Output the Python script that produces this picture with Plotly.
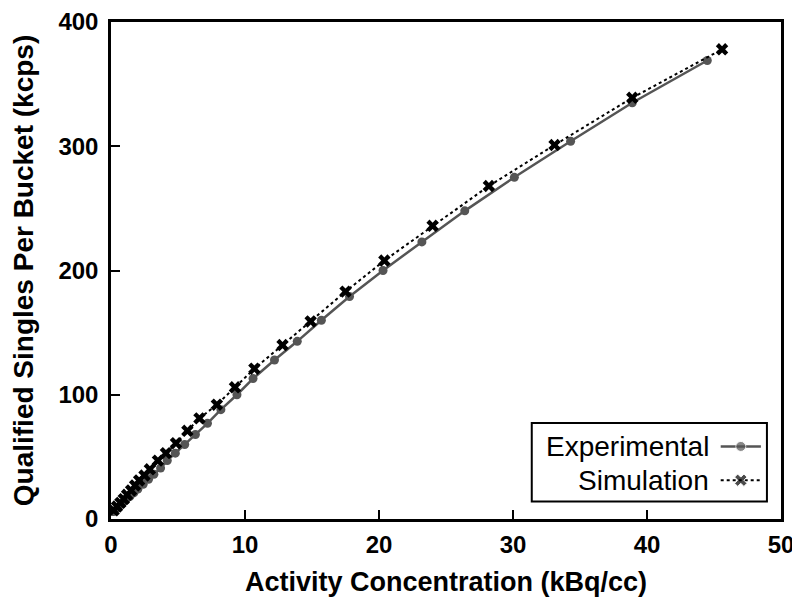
import plotly.graph_objects as go

# Experimental data (kBq/cc -> kcps)
exp_x = [0.2, 0.5, 0.8, 1.1, 1.4, 1.7, 2.0, 2.4, 2.8, 3.2, 3.7, 4.2, 4.8, 5.5, 6.3,
         7.2, 8.2, 9.4, 10.6, 12.2, 13.9, 15.7, 17.8, 20.3, 23.2, 26.4, 30.1, 34.3,
         38.9, 44.5]
exp_y = [6, 9, 12, 15, 18, 21, 24, 28, 32, 36, 41, 47, 53, 60, 68,
         77, 88, 100, 113, 128, 143, 160, 179, 200, 223, 248, 275, 304,
         335, 369]

# Simulation data
sim_x = [0.2, 0.45, 0.7, 0.95, 1.2, 1.5, 1.8, 2.1, 2.5, 2.9, 3.5, 4.1, 4.85, 5.7,
         6.6, 7.9, 9.25, 10.7, 12.8, 14.9, 17.5, 20.4, 24.0, 28.2, 33.1, 38.9, 45.6]
sim_y = [7, 10, 13, 16, 19.5, 23, 27, 31, 35, 40, 47, 53, 61, 71,
         81, 92, 106, 121, 140, 159, 183, 208, 236, 268, 301, 339, 378]

x_ticks = [0, 10, 20, 30, 40, 50]
y_ticks = [0, 100, 200, 300, 400]
legend_names = ["Experimental", "Simulation"]

EXP_COLOR = "#555555"
SIM_COLOR = "#000000"
FONT = "Liberation Sans, Arial, sans-serif"

fig = go.Figure()
fig.add_trace(go.Scatter(x=exp_x, y=exp_y, mode="lines+markers", name=legend_names[0],
                         line=dict(color=EXP_COLOR, width=2.5),
                         marker=dict(symbol="circle", size=9, color=EXP_COLOR),
                         showlegend=False))
fig.add_trace(go.Scatter(x=sim_x, y=sim_y, mode="lines+markers", name=legend_names[1],
                         line=dict(color=SIM_COLOR, width=2, dash="dot"),
                         marker=dict(symbol="x", size=11, color=SIM_COLOR),
                         showlegend=False))

# Custom legend (symbols on the right of text), drawn in an overlay unit axis
lx0, lx1 = 0.91, 0.97
ly = [0.146, 0.078]
fig.add_trace(go.Scatter(x=[lx0, (lx0 + lx1) / 2, lx1], y=[ly[0]] * 3, xaxis="x2", yaxis="y2",
                         mode="lines+markers", showlegend=False, hoverinfo="skip",
                         line=dict(color=EXP_COLOR, width=2.5),
                         marker=dict(symbol="circle", size=[0, 10, 0], color=EXP_COLOR)))
fig.add_trace(go.Scatter(x=[lx0, (lx0 + lx1) / 2, lx1], y=[ly[1]] * 3, xaxis="x2", yaxis="y2",
                         mode="lines+markers", showlegend=False, hoverinfo="skip",
                         line=dict(color=SIM_COLOR, width=2, dash="dot"),
                         marker=dict(symbol="x", size=[0, 11, 0], color=SIM_COLOR)))
for name, yy in zip(legend_names, ly):
    fig.add_annotation(x=0.895, y=yy, xref="paper", yref="paper", text=name,
                       showarrow=False, xanchor="right", yanchor="middle",
                       font=dict(family=FONT, size=28, color="black"))
fig.add_shape(type="rect", xref="paper", yref="paper", x0=0.628, x1=0.979, y0=0.035, y1=0.193,
              line=dict(color="black", width=2), fillcolor="rgba(0,0,0,0)")

axis_common = dict(showline=True, linecolor="black", linewidth=2.5, mirror=True,
                   ticks="inside", ticklen=9, tickwidth=2, tickcolor="black",
                   showgrid=False, zeroline=False, automargin=False,
                   ticklabeloverflow="allow",
                   tickfont=dict(family=FONT, size=24, color="black", weight="bold"))

fig.update_layout(
    width=792, height=597,
    margin=dict(l=103, r=19, t=14, b=86),
    paper_bgcolor="white", plot_bgcolor="white",
    xaxis=dict(range=[0, 50], tickvals=x_ticks, ticktext=[str(v) for v in x_ticks],
               ticklabelstandoff=2,
               title=dict(text="<b>Activity Concentration (kBq/cc)</b>", standoff=16,
                          font=dict(family=FONT, size=27, color="black")),
               **axis_common),
    yaxis=dict(range=[0, 400], tickvals=y_ticks, ticktext=[str(v) for v in y_ticks],
               ticklabelstandoff=5,
               title=dict(text="<b>Qualified Singles Per Bucket (kcps)</b>", standoff=22,
                          font=dict(family=FONT, size=28, color="black")),
               **axis_common),
    xaxis2=dict(overlaying="x", range=[0, 1], visible=False, fixedrange=True),
    yaxis2=dict(overlaying="y", range=[0, 1], visible=False, fixedrange=True),
)

fig.write_html("out.html")
